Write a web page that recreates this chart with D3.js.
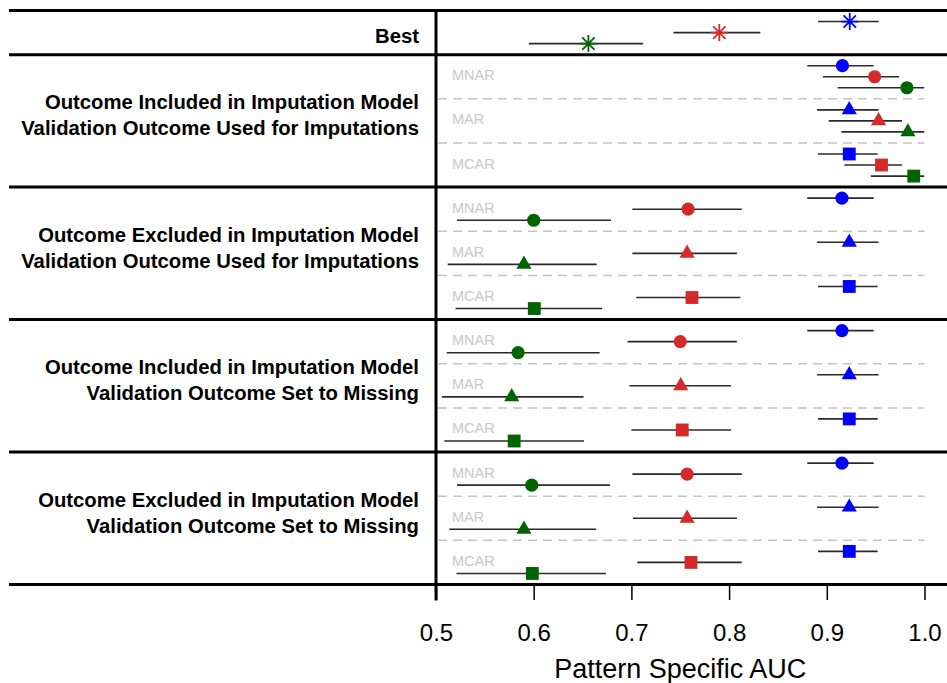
<!DOCTYPE html>
<html>
<head>
<meta charset="utf-8">
<script src="https://cdn.jsdelivr.net/npm/d3@7"></script>
<style>
  html, body { margin: 0; padding: 0; background: #fff; }
  svg { display: block; font-family: "Liberation Sans", Arial, sans-serif; }
</style>
</head>
<body>
<svg id="chart" width="947" height="683"></svg>
<script>
// ---- data ----
const sections = [
  ["Outcome Included in Imputation Model", "Validation Outcome Used for Imputations"],
  ["Outcome Excluded in Imputation Model", "Validation Outcome Used for Imputations"],
  ["Outcome Included in Imputation Model", "Validation Outcome Set to Missing"],
  ["Outcome Excluded in Imputation Model", "Validation Outcome Set to Missing"]
];
const patterns = ["MNAR", "MAR", "MCAR"];
const seriesNames = ["Model A", "Model B", "Model C"];
const seriesColors = ["#0000ff", "#d42a2a", "#006400"];
const patternShapes = ["circle", "triangle", "square"];

// "Best" row: estimate, lower and upper limits per series
const bestEst = [0.9235, 0.790, 0.656];
const bestLo  = [0.891, 0.743, 0.595];
const bestHi  = [0.953, 0.832, 0.712];

// per series: 4 sections x (MNAR, MAR, MCAR)
const estA = [0.916, 0.923, 0.923, 0.9155, 0.923, 0.923, 0.9155, 0.923, 0.923, 0.9155, 0.923, 0.923];
const loA  = [0.880, 0.890, 0.891, 0.880, 0.890, 0.891, 0.880, 0.890, 0.891, 0.880, 0.890, 0.891];
const hiA  = [0.948, 0.953, 0.952, 0.948, 0.953, 0.952, 0.948, 0.953, 0.952, 0.948, 0.953, 0.952];

const estB = [0.949, 0.953, 0.956, 0.758, 0.757, 0.762, 0.750, 0.7505, 0.752, 0.757, 0.757, 0.761];
const loB  = [0.896, 0.902, 0.918, 0.701, 0.701, 0.705, 0.696, 0.698, 0.700, 0.701, 0.7015, 0.706];
const hiB  = [0.974, 0.977, 0.977, 0.813, 0.808, 0.8115, 0.808, 0.802, 0.802, 0.813, 0.808, 0.813];

const estC = [0.982, 0.983, 0.989, 0.600, 0.590, 0.6006, 0.584, 0.5775, 0.580, 0.598, 0.590, 0.5986];
const loC  = [0.911, 0.915, 0.945, 0.5215, 0.512, 0.520, 0.511, 0.506, 0.5085, 0.5215, 0.5136, 0.521];
const hiC  = [1.0, 1.0, 1.0, 0.679, 0.6645, 0.670, 0.6675, 0.651, 0.6515, 0.678, 0.664, 0.674];

const xTicks = [0.5, 0.6, 0.7, 0.8, 0.9, 1.0];
const xTitle = "Pattern Specific AUC";

// ---- layout ----
const svg = d3.select("#chart");
const W = 947;
const leftEdge = 9, labelRight = 419;
const nRows = 1 + sections.length * patterns.length;

const x = d3.scaleLinear().domain([0.5, 1.0]).range([436, 924.5]);
const y = d3.scaleLinear().domain([0, nRows]).range([10.5, 584.5]);
const rowH = y(1) - y(0);
const offset = d3.scalePoint().domain(seriesNames).range([-rowH * 0.25, rowH * 0.25]);

// assemble records
const records = [];
seriesNames.forEach((s, k) => {
  records.push({ row: 0, series: s, k, shape: "star", est: bestEst[k], lo: bestLo[k], hi: bestHi[k] });
});
const ests = [estA, estB, estC], los = [loA, loB, loC], his = [hiA, hiB, hiC];
sections.forEach((sec, si) => {
  patterns.forEach((p, pi) => {
    const idx = si * patterns.length + pi;
    seriesNames.forEach((s, k) => {
      records.push({ row: 1 + idx, series: s, k, shape: patternShapes[pi],
        est: ests[k][idx], lo: los[k][idx], hi: his[k][idx] });
    });
  });
});

const plot = svg.append("g");
svg.append("defs").append("clipPath").attr("id", "plotclip")
  .append("rect").attr("x", x(0.5)).attr("y", y(0)).attr("width", x(1.0) - x(0.5)).attr("height", y(nRows) - y(0));

// dashed separators between patterns
const dashRows = [];
sections.forEach((sec, si) => {
  for (let pi = 1; pi < patterns.length; pi++) dashRows.push(1 + si * patterns.length + pi);
});
plot.selectAll("line.dash").data(dashRows).join("line")
  .attr("class", "dash")
  .attr("x1", x(0.5) + 2).attr("x2", x(1.0))
  .attr("y1", d => y(d)).attr("y2", d => y(d))
  .attr("stroke", "#c4c4c4").attr("stroke-width", 1.5).attr("stroke-dasharray", "9,6");

// pattern labels
sections.forEach((sec, si) => {
  patterns.forEach((p, pi) => {
    const r = 1 + si * patterns.length + pi;
    plot.append("text")
      .attr("x", 452).attr("y", y(r + 0.5) + 3.5)
      .attr("font-size", 14.5).attr("fill", "#c8c8c8")
      .text(p);
  });
});

// error bars
const marks = plot.append("g").attr("clip-path", "url(#plotclip)");
marks.selectAll("line.ci").data(records).join("line")
  .attr("class", "ci")
  .attr("x1", d => x(d.lo)).attr("x2", d => x(d.hi))
  .attr("y1", d => y(d.row + 0.5) + offset(d.series))
  .attr("y2", d => y(d.row + 0.5) + offset(d.series))
  .attr("stroke", "#2a2a2a").attr("stroke-width", 1.6);

// point symbols
const symType = { circle: d3.symbolCircle, triangle: d3.symbolTriangle, square: d3.symbolSquare };
const symSize = { circle: Math.PI * 6.6 * 6.6, triangle: 100, square: 165 };
const starArm = 8.5, starDiag = 6.2;
const starPath = `M0,${-starArm}V${starArm}M${-starArm},0H${starArm}` +
  `M${-starDiag},${-starDiag}L${starDiag},${starDiag}M${-starDiag},${starDiag}L${starDiag},${-starDiag}`;

plot.selectAll("path.pt").data(records).join("path")
  .attr("class", "pt")
  .attr("transform", d => `translate(${x(d.est)},${y(d.row + 0.5) + offset(d.series)})`)
  .attr("d", d => d.shape === "star" ? starPath : d3.symbol(symType[d.shape], symSize[d.shape])())
  .attr("fill", d => d.shape === "star" ? "none" : seriesColors[d.k])
  .attr("stroke", d => d.shape === "star" ? seriesColors[d.k] : "none")
  .attr("stroke-width", 1.8);

// section rules (full width)
const ruleRows = [0, 1];
sections.forEach((sec, si) => ruleRows.push(1 + (si + 1) * patterns.length));
svg.selectAll("line.rule").data(ruleRows).join("line")
  .attr("class", "rule")
  .attr("x1", leftEdge).attr("x2", W)
  .attr("y1", d => y(d)).attr("y2", d => y(d))
  .attr("stroke", "#000").attr("stroke-width", 3);

// vertical divider, reaching down as the first tick
svg.append("line")
  .attr("x1", x(0.5)).attr("x2", x(0.5))
  .attr("y1", y(0) - 1.5).attr("y2", y(nRows) + 16)
  .attr("stroke", "#000").attr("stroke-width", 3);

// x axis
const axis = svg.append("g").attr("transform", `translate(0,${y(nRows) + 1.5})`)
  .call(d3.axisBottom(x).tickValues(xTicks).tickFormat(d3.format(".1f")).tickSize(14).tickPadding(24));
axis.select(".domain").remove();
axis.selectAll(".tick line").attr("stroke", "#000").attr("stroke-width", 1.5);
axis.selectAll(".tick text")
  .attr("font-size", 24).attr("fill", "#000")
  .attr("font-family", "Liberation Sans, Arial, sans-serif");

svg.append("text")
  .attr("x", (x(0.5) + x(1.0)) / 2).attr("y", 678)
  .attr("text-anchor", "middle").attr("font-size", 27).attr("fill", "#000")
  .text(xTitle);

// row labels
svg.append("text")
  .attr("x", labelRight).attr("y", y(0.5) + 10)
  .attr("text-anchor", "end").attr("font-weight", "bold").attr("font-size", 20.3)
  .text("Best");

sections.forEach((sec, si) => {
  const c = y(1 + si * patterns.length + patterns.length / 2);
  const t = svg.append("text")
    .attr("text-anchor", "end").attr("font-weight", "bold").attr("font-size", 20.3);
  sec.forEach((line, li) => {
    t.append("tspan").attr("x", labelRight).attr("y", c - 11.5 + li * 26).text(line);
  });
});
</script>
</body>
</html>
